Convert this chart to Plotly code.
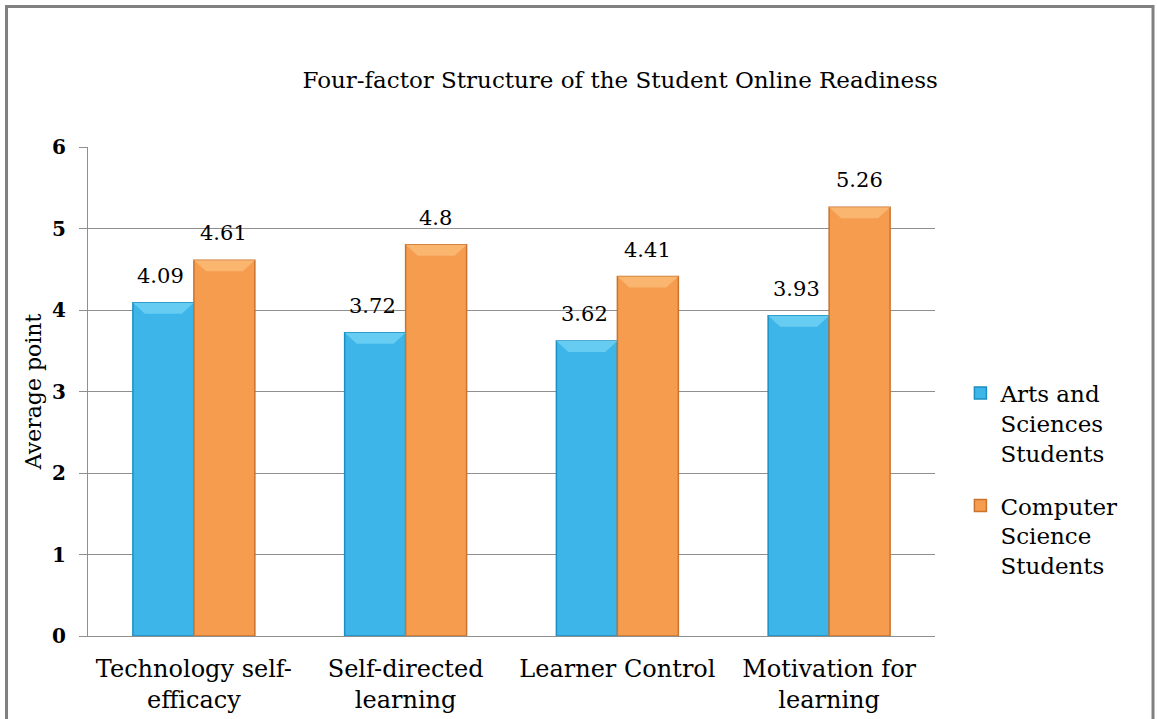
import plotly.graph_objects as go

categories = ["Technology self-<br>efficacy", "Self-directed<br>learning", "Learner Control", "Motivation for<br>learning"]
arts_sciences = [4.09, 3.72, 3.62, 3.93]
computer_science = [4.61, 4.80, 4.41, 5.26]
arts_labels = ["4.09", "3.72", "3.62", "3.93"]
cs_labels = ["4.61", "4.8", "4.41", "5.26"]
series_names = ["Arts and<br>Sciences<br>Students", "Computer<br>Science<br>Students"]
y_ticks = [0, 1, 2, 3, 4, 5, 6]

serif = "DejaVu Serif, serif"
BARGAP = 0.424
bar_w = (1 - BARGAP) / 2   # width of one bar in category units
cap_inset = 0.057          # bevel inset (category units)
cap_h = 0.135              # bevel height (value units)

fig = go.Figure()
fig.add_trace(go.Bar(
    x=categories, y=arts_sciences, name=series_names[0], legendgroup="a",
    marker=dict(color="#3db5e8", line=dict(color="#1b8fc2", width=1.5)),
))
fig.add_trace(go.Bar(
    x=categories, y=computer_science, name=series_names[1], legendgroup="b",
    marker=dict(color="#f69c4e", line=dict(color="#c9732e", width=1.5)),
))

# bevelled caps on top of bars (derived from the data values)
for series, side, cap_col in ((arts_sciences, -1, "#66ccf2"), (computer_science, 1, "#fab56f")):
    for i, v in enumerate(series):
        x0 = i if side > 0 else i - bar_w
        x1 = x0 + bar_w
        path = (f"M {x0},{v} L {x1},{v} L {x1 - cap_inset},{v - cap_h} "
                f"L {x0 + cap_inset},{v - cap_h} Z")
        fig.add_shape(type="path", xref="x", yref="y", path=path,
                      fillcolor=cap_col, line=dict(width=0), layer="above")

for cat, val, lab in zip(categories, arts_sciences, arts_labels):
    fig.add_annotation(x=cat, y=val, text=lab, showarrow=False, xshift=-33, yshift=13,
                       yanchor="bottom", font=dict(family=serif, size=21, color="black"))
for cat, val, lab in zip(categories, computer_science, cs_labels):
    fig.add_annotation(x=cat, y=val, text=lab, showarrow=False, xshift=30, yshift=13,
                       yanchor="bottom", font=dict(family=serif, size=21, color="black"))

fig.update_layout(
    width=1157, height=719,
    margin=dict(l=88, r=222, t=147, b=83),
    paper_bgcolor="white", plot_bgcolor="white",
    barmode="group", bargap=BARGAP, bargroupgap=0,
    title=dict(text="Four-factor Structure of the Student Online Readiness",
               x=0.536, xanchor="center", y=0.889, yanchor="middle",
               font=dict(family=serif, size=23, color="black")),
    font=dict(family=serif, color="black"),
    legend=dict(x=1.03, xanchor="left", y=0.541, yanchor="top", valign="top",
                traceorder="grouped", tracegroupgap=20,
                font=dict(family=serif, size=23, color="black"),
                itemwidth=30, bgcolor="rgba(0,0,0,0)"),
    showlegend=True,
)
fig.update_yaxes(range=[0, 6], tickvals=y_ticks, showgrid=True, gridcolor="#8f8f8f", gridwidth=1.2,
                 showline=True, linecolor="#8f8f8f", linewidth=1.2, automargin=False,
                 ticks="outside", ticklen=8, tickcolor="#8f8f8f", ticklabelstandoff=9,
                 tickfont=dict(family=serif, size=20, color="black", weight="bold"),
                 zeroline=False,
                 title=dict(text="Average point", font=dict(family=serif, size=22, color="black"), standoff=4))
fig.update_xaxes(showline=True, linecolor="#8f8f8f", linewidth=1.2, automargin=False,
                 tickfont=dict(family=serif, size=24, color="black"),
                 ticks="", ticklabelstandoff=11)

fig.add_shape(type="rect", xref="paper", yref="paper",
              x0=-0.0962, x1=1.2574, y0=-0.3, y1=1.2873,
              line=dict(color="#808080", width=3), fillcolor="rgba(0,0,0,0)", layer="below")

fig.write_html("out.html", config={"displayModeBar": False},
               post_script="document.body.style.margin='0';")
